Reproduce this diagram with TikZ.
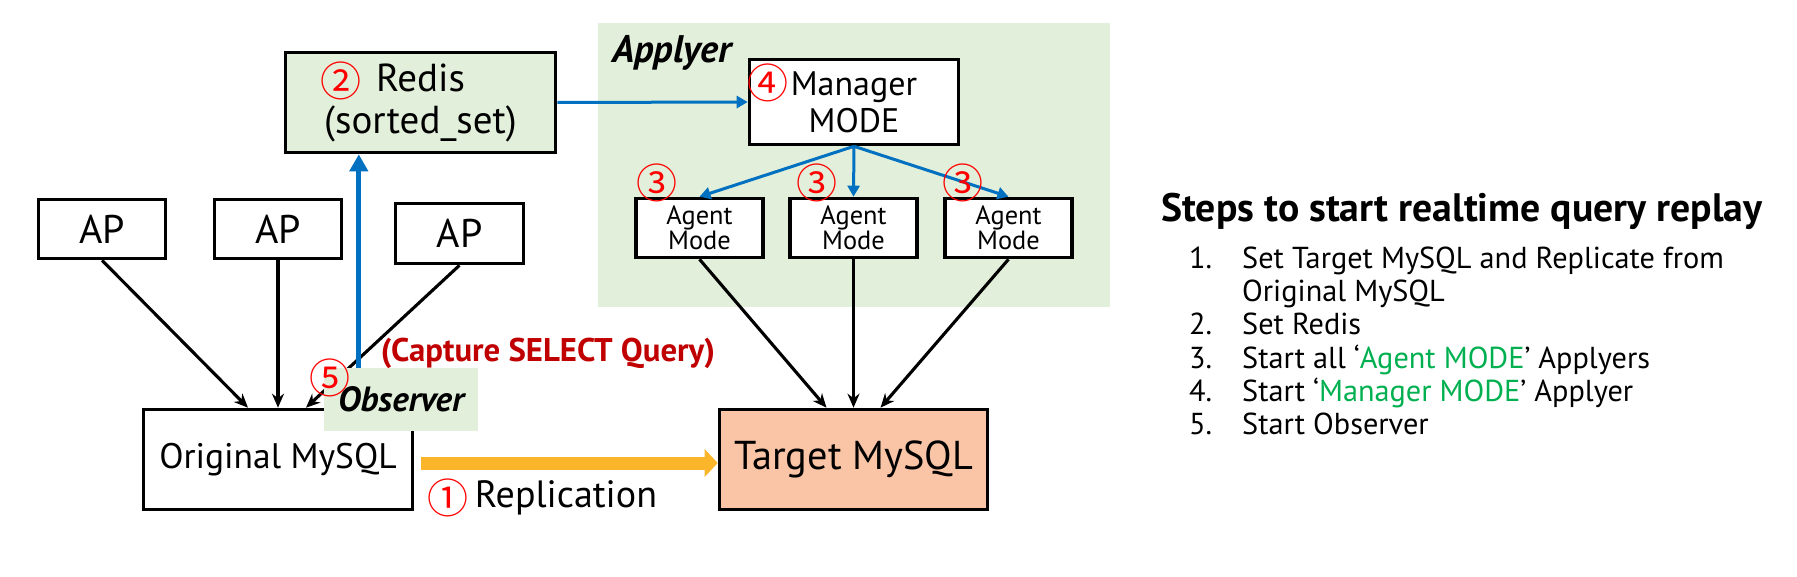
\documentclass[tikz,border=0pt]{standalone}
\usepackage{fontspec}
\setmainfont{PT Sans}
\newfontfamily\cjkfont{Noto Sans CJK JP}
\usetikzlibrary{arrows.meta,positioning}
\definecolor{appgreen}{HTML}{E2EFDA}
\definecolor{tgtpeach}{HTML}{F9C5A6}
\definecolor{flowblue}{HTML}{0070C0}
\definecolor{replgold}{HTML}{FBB52B}
\definecolor{numred}{HTML}{FF0000}
\definecolor{capred}{HTML}{C00000}
\definecolor{stepgreen}{HTML}{00B050}
\newcommand{\fsz}[2]{\fontsize{#1}{#2}\selectfont}
\tikzset{
  sysbox/.style={draw, line width=3.6pt, inner sep=0pt, align=center},
  feed/.style={line width=3.1pt, -{Stealth[length=14pt,width=12pt]}},
  ctrl/.style={flowblue, line width=3pt, -{Triangle[length=11pt,width=12pt]}},
  num/.style={text=numred, font=\cjkfont\fsz{41}{41}, inner sep=0pt},
  item/.style={anchor=base west, inner sep=0pt, font=\fsz{30.3}{30.3}},
}
\begin{document}
\begin{tikzpicture}[x=1pt,y=-1pt]
  \useasboundingbox (0,0) rectangle (1797,577);
  % applyer area
  \fill[appgreen] (598,23) rectangle (1110,307);
  \node[anchor=base west, inner sep=0pt, font=\bfseries\itshape\fsz{38.4}{38.4}] (applyer) at (612,63) {Applyer};
  \node[sysbox, fill=white, minimum width=209pt, minimum height=85pt, font=\fsz{34}{37}] (manager) at (854,102) {Manager\\MODE};
  \foreach \name/\x in {agent1/699.5, agent2/853.5, agent3/1008.5}
    \node[sysbox, fill=white, minimum width=127pt, minimum height=59pt, font=\fsz{26.4}{25}] (\name) at (\x,228) {Agent\\Mode};
  % sources
  \node[sysbox, fill=appgreen, minimum width=270pt, minimum height=100pt, font=\fsz{39}{42}] (redis) at (420.5,102.5) {Redis\\(sorted\_set)};
  \node[sysbox, minimum width=127pt, minimum height=59pt, font=\fsz{40}{40}] (ap1) at (102,229) {AP};
  \node[sysbox, minimum width=127pt, minimum height=59pt, font=\fsz{40}{40}] (ap2) at (278,229) {AP};
  \node[sysbox, minimum width=128pt, minimum height=60pt, font=\fsz{40}{40}] (ap3) at (459.5,233.5) {AP};
  \node[sysbox, fill=white, minimum width=269pt, minimum height=100pt, font=\fsz{35.5}{35.5}] (orig) at (278,459.5) {Original MySQL};
  \node[sysbox, fill=tgtpeach, minimum width=268pt, minimum height=100pt, font=\fsz{40.3}{40.3}] (target) at (853.5,459.5) {Target MySQL};
  % connectors
  \draw[feed] (ap1.south) -- ([xshift=-30pt]orig.north);
  \draw[feed] (ap2.south) -- (orig.north);
  \draw[feed] (ap3.south) -- ([xshift=28pt]orig.north);
  \draw[feed] (agent1.south) -- ([xshift=-27pt]target.north);
  \draw[feed] (agent2.south) -- (target.north);
  \draw[feed] (agent3.south) -- ([xshift=27pt]target.north);
  \draw[ctrl] (redis.east) -- (manager.west);
  \foreach \a in {agent1,agent2,agent3}
    \draw[ctrl] (manager.south) -- (\a.north);
  \draw[replgold, line width=13pt, -{Triangle[length=13pt,width=27pt]}] ([shift={(7,3.5)}]orig.east) -- ([shift={(0,3.5)}]target.west);
  % observer
  \node[fill=appgreen, minimum width=154pt, minimum height=63pt, inner sep=0pt, font=\bfseries\itshape\fsz{35}{35}] (observer) at (401,399.5) {Observer};
  \coordinate (tap) at ([xshift=35pt]observer.north west);
  \draw[flowblue, line width=5pt, -{Triangle[length=17pt,width=18pt]}] (tap) -- (tap |- redis.south);
  \node[text=capred, font=\bfseries\fsz{32.8}{32.8}] (capture) at (548,353) {(Capture SELECT Query)};
  % step numbers
  \node[num] (n1) at (448,498) {①};
  \node[right=6pt of n1, inner sep=0pt, font=\fsz{38}{38}] (repl) {Replication};
  \node[num] (n2) at (341,81) {②};
  \foreach \x [count=\i] in {657,817,963}
    \node[num] (n3\i) at (\x,183) {③};
  \node[num] (n4) at (768,83) {④};
  \node[num] (n5) at (330,378) {⑤};
  % steps list
  \node[anchor=base west, inner sep=0pt, font=\bfseries\fsz{39.7}{39.7}] (title) at (1161,222) {Steps to start realtime query replay};
  \foreach \y/\n in {269/1., 335/2., 368.5/3., 401/4., 434/5.}
    \node[item] (num\n) at (1189,\y) {\n};
  \node[item] (step1) at (1242,269) {Set Target MySQL and Replicate from};
  \node[item] (step1b) at (1242,302) {Original MySQL};
  \node[item] (step2) at (1242,335) {Set Redis};
  \node[item] (step3) at (1242,368.5) {Start all ‘\textcolor{stepgreen}{Agent MODE}’ Applyers};
  \node[item] (step4) at (1242,401) {Start ‘\textcolor{stepgreen}{Manager MODE}’ Applyer};
  \node[item] (step5) at (1242,434) {Start Observer};
\end{tikzpicture}
\end{document}
